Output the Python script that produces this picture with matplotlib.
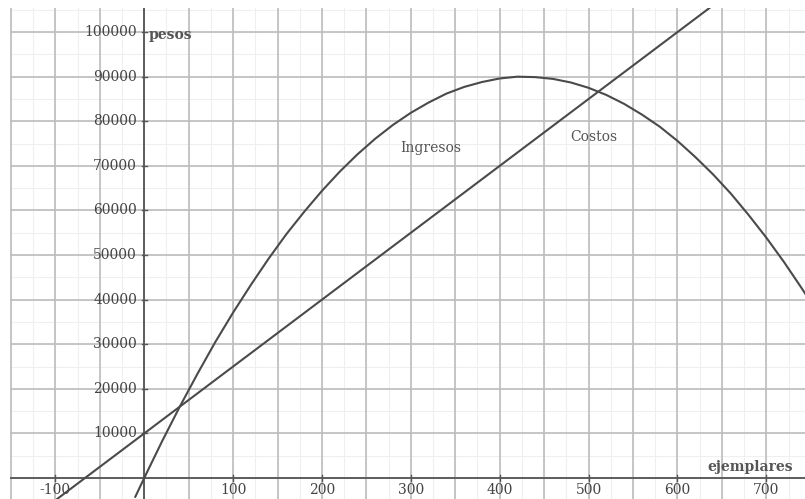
import numpy as np
import matplotlib
matplotlib.use("Agg")
import matplotlib.pyplot as plt

# valores
x_ingresos = [-10, 0, 20, 40, 60, 80, 100, 120, 140, 160, 180, 200, 220, 240, 260, 280, 300,
              320, 340, 360, 380, 400, 420, 440, 460, 480, 500, 520, 540, 560, 580, 600,
              620, 640, 660, 680, 700, 720, 740, 750]
y_ingresos = [-4200, 0, 8200, 16000, 23400, 30500, 37100, 43300, 49200, 54700, 59700, 64400,
              68700, 72600, 76100, 79200, 81900, 84200, 86200, 87700, 88800, 89600, 90000,
              89900, 89500, 88700, 87500, 85900, 83900, 81500, 78800, 75600, 72000, 68100,
              63800, 59000, 53900, 48400, 42500, 39400]

x_costos = [-100, 0, 100, 200, 300, 400, 500, 600, 700]
y_costos = [-5000, 10000, 25000, 40000, 55000, 70000, 85000, 100000, 115000]

xticks = [-100, 100, 200, 300, 400, 500, 600, 700]
yticks = [10000, 20000, 30000, 40000, 50000, 60000, 70000, 80000, 90000, 100000]

fig = plt.figure(figsize=(8.05, 4.99), dpi=100)
ax = fig.add_axes([10 / 805, 0, 795 / 805, 491 / 499])
ax.set_xlim(-151, 743.5)
ax.set_ylim(-4700, 105400)
for s in ax.spines.values():
    s.set_visible(False)
ax.set_xticks([])
ax.set_yticks([])

# cuadricula
for gx in np.arange(-150, 751, 25):
    ax.axvline(gx, color='#efefef', lw=0.8, zorder=0)
for gy in np.arange(-5000, 105001, 5000):
    ax.axhline(gy, color='#efefef', lw=0.8, zorder=0)
for gx in np.arange(-150, 751, 50):
    ax.axvline(gx, color='#bdbdbd', lw=1.2, zorder=1)
for gy in np.arange(0, 105001, 10000):
    ax.axhline(gy, color='#bdbdbd', lw=1.2, zorder=1)

# ejes
ax.axvline(0, color='#555555', lw=1.3, zorder=2)
ax.axhline(0, color='#555555', lw=1.3, zorder=2)

fnt = {'family': 'DejaVu Serif', 'color': '#444444', 'size': 10}
for t in yticks:
    ax.plot([-3, 3], [t, t], color='#555555', lw=1, zorder=2)
    ax.text(-8, t, str(t), ha='right', va='center', fontdict=fnt)
for t in xticks:
    ax.plot([t, t], [-600, 600], color='#555555', lw=1, zorder=2)
    ax.text(t, -2700, str(t), ha='center', va='center', fontdict=fnt)

ax.plot(x_ingresos, y_ingresos, color='#4a4a4a', lw=1.5, zorder=3)
ax.plot(x_costos, y_costos, color='#4a4a4a', lw=1.5, zorder=3)

lab = {'family': 'DejaVu Serif', 'color': '#555555', 'size': 10}
ax.text(322, 74000, 'Ingresos', ha='center', va='center', fontdict=lab)
ax.text(506, 76500, 'Costos', ha='center', va='center', fontdict=lab)
ax.text(5, 99300, 'pesos', ha='left', va='center', fontdict=lab, weight='bold')
ax.text(682, 2500, 'ejemplares', ha='center', va='center', fontdict=lab, weight='bold')

fig.savefig("out.png", dpi=100)
